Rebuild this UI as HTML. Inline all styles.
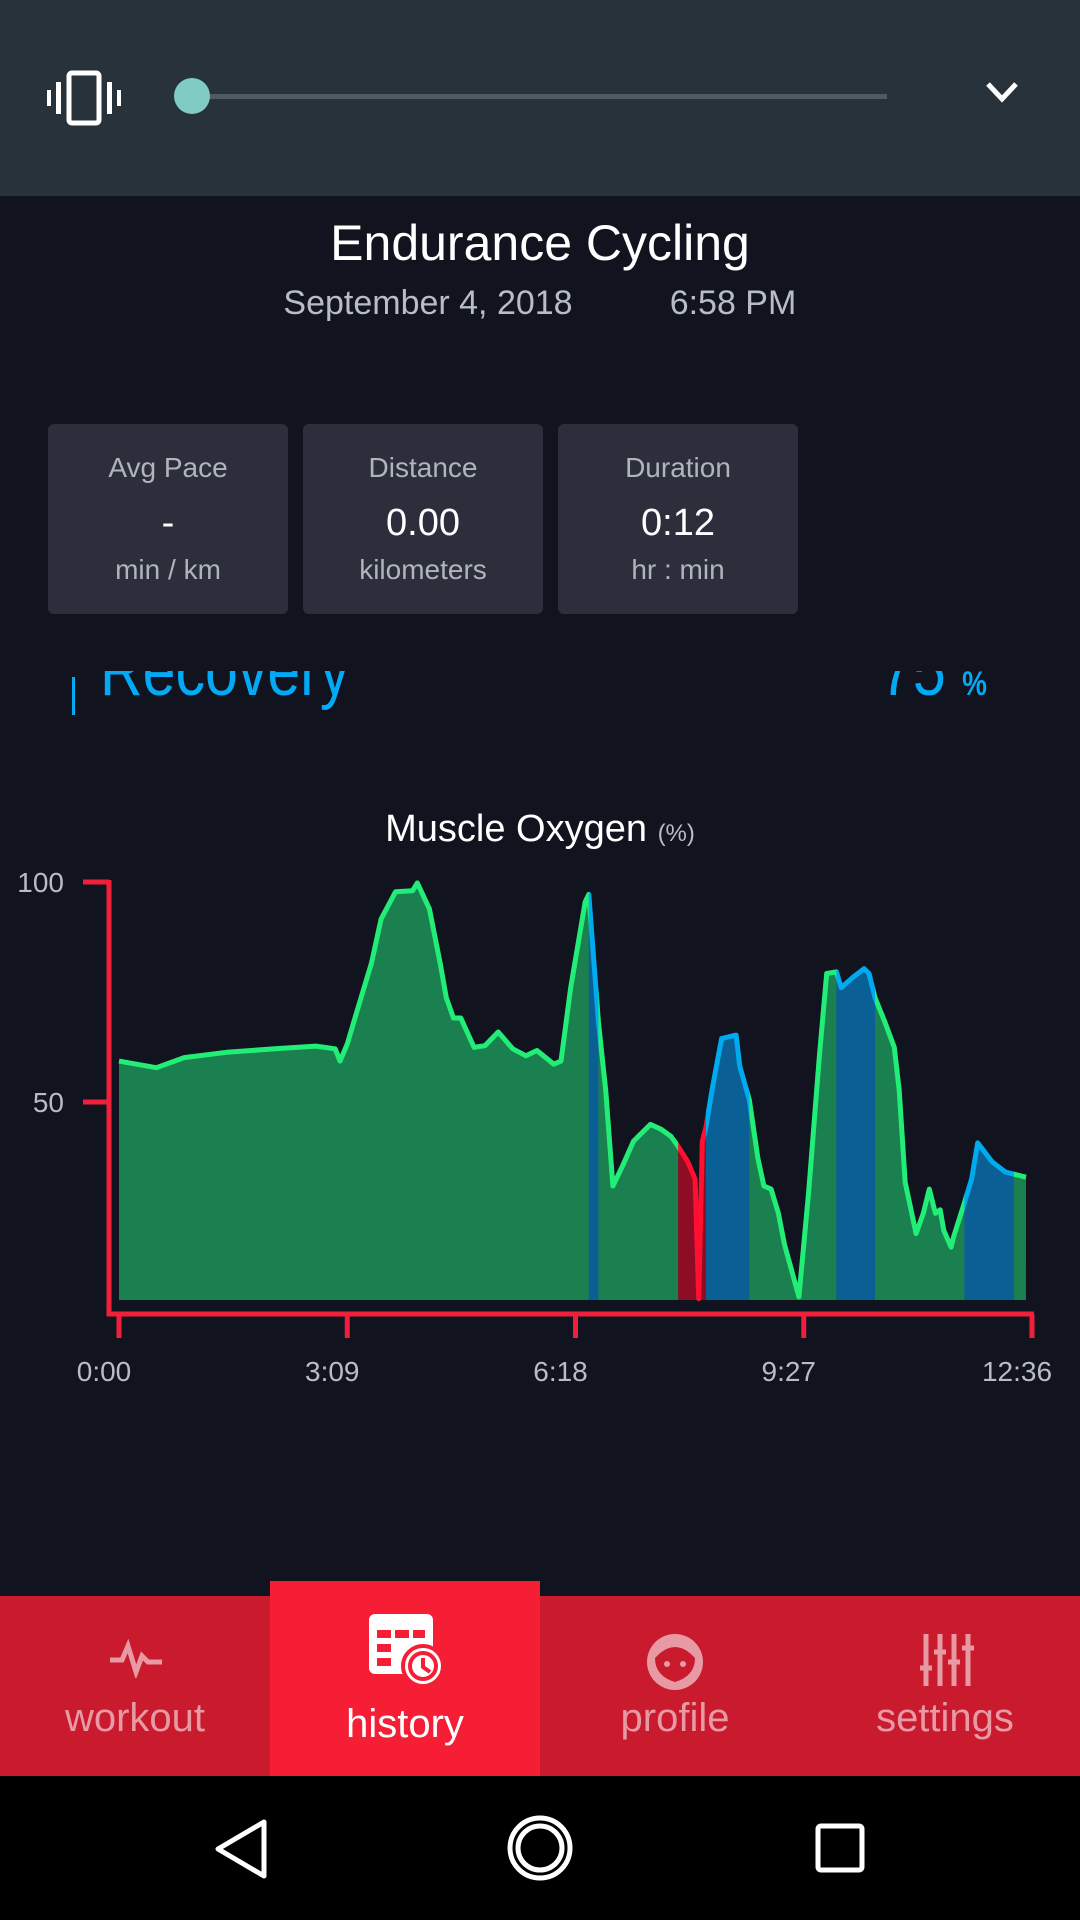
<!DOCTYPE html>
<html><head><meta charset="utf-8"><style>
body{margin:0;width:1080px;height:1920px;background:#11131f;font-family:"Liberation Sans",sans-serif;position:relative;overflow:hidden}
.abs{position:absolute}
.card{position:absolute;top:424px;width:240px;height:190px;background:#2c2f3b;border-radius:6px;text-align:center;color:#b0b4bc}
.card .l{position:absolute;top:28px;width:100%;font-size:28px}
.card .v{position:absolute;top:78px;width:100%;font-size:38px;color:#fff}
.card .u{position:absolute;top:130px;width:100%;font-size:28px}
.tab{position:absolute;top:1596px;height:180px;width:270px;text-align:center;color:#e89aa4;font-size:40px}
</style></head><body>
<div class="abs" style="left:0;top:0;width:1080px;height:196px;background:#28323a"></div>
<svg class="abs" style="top:68px;left:46px" width="76" height="60"><rect x="23" y="5" width="30" height="50" rx="3" fill="none" stroke="#fff" stroke-width="5"/><rect x="10" y="14" width="5" height="32" fill="#fff"/><rect x="61" y="14" width="5" height="32" fill="#fff"/><rect x="1" y="22" width="4" height="16" fill="#fff"/><rect x="71" y="22" width="4" height="16" fill="#fff"/></svg>
<div class="abs" style="left:190px;top:94px;width:697px;height:5px;background:#4f5b62"></div>
<div class="abs" style="left:174px;top:78px;width:36px;height:36px;border-radius:50%;background:#80cbc4"></div>
<svg class="abs" style="left:985px;top:80px" width="34" height="24"><polyline points="3,4 17,19 31,4" fill="none" stroke="#fff" stroke-width="5"/></svg>
<div class="abs" style="left:0;top:214px;width:1080px;text-align:center;color:#fff;font-size:50px">Endurance Cycling</div>
<div class="abs" style="left:228px;top:284px;width:400px;text-align:center;color:#b8bcc6;font-size:34px">September 4, 2018</div>
<div class="abs" style="left:633px;top:284px;width:200px;text-align:center;color:#b8bcc6;font-size:34px">6:58 PM</div>
<div class="card" style="left:48px"><div class="l">Avg Pace</div><div class="v">-</div><div class="u">min / km</div></div>
<div class="card" style="left:303px"><div class="l">Distance</div><div class="v">0.00</div><div class="u">kilometers</div></div>
<div class="card" style="left:558px"><div class="l">Duration</div><div class="v">0:12</div><div class="u">hr : min</div></div>
<div class="abs" style="left:0;top:671px;width:1080px;height:50px;overflow:hidden">
<div class="abs" style="left:72px;top:6px;width:3px;height:38px;background:#03a9f4"></div>
<div class="abs" style="left:100px;top:-36px;font-size:72px;color:#03a9f4;line-height:72px;transform:scaleX(0.82);transform-origin:left">Recovery</div>
<div class="abs" style="left:880px;top:-36px;font-size:72px;color:#03a9f4;line-height:72px;transform:scaleX(0.82);transform-origin:left">75 <span style="font-size:34px;font-weight:bold">%</span></div>
</div>
<div class="abs" style="left:0;top:808px;width:1080px;text-align:center;color:#fff;font-size:38px">Muscle Oxygen <span style="font-size:24px;color:#b8bcc6">(%)</span></div>
<svg id="chart" class="abs" style="left:0;top:0" width="1080" height="1420"></svg>
<div class="abs" style="left:0;top:1596px;width:1080px;height:180px;background:#c91a2e"></div>
<div class="abs" style="left:270px;top:1581px;width:270px;height:195px;background:#f51e34"></div>
<div class="tab" style="left:0"><svg style="position:absolute;left:108px;top:42px" width="56" height="40"><polyline points="2,22 14,22 20,8 28,34 34,18 40,24 54,24" fill="none" stroke="#e89aa4" stroke-width="5"/></svg><div style="position:absolute;top:100px;width:100%">workout</div></div>
<div class="tab" style="left:270px;color:#fff"><svg style="position:absolute;left:95px;top:14px" width="84" height="80"><rect x="4" y="4" width="64" height="60" rx="6" fill="#fff"/><g fill="#f51e34"><rect x="12" y="20" width="14" height="8"/><rect x="30" y="20" width="14" height="8"/><rect x="48" y="20" width="12" height="8"/><rect x="12" y="34" width="14" height="8"/><rect x="12" y="48" width="14" height="8"/></g><circle cx="58" cy="56" r="20" fill="#fff" stroke="#f51e34" stroke-width="4"/><circle cx="58" cy="56" r="13" fill="none" stroke="#f51e34" stroke-width="4"/><polyline points="58,48 58,57 65,62" fill="none" stroke="#f51e34" stroke-width="4"/></svg><div style="position:absolute;top:106px;width:100%">history</div></div>
<div class="tab" style="left:540px"><svg style="position:absolute;left:105px;top:36px" width="60" height="60"><circle cx="30" cy="30" r="28" fill="#e89aa4"/><path d="M10,26 Q30,4 50,26 Q50,44 30,50 Q10,44 10,26Z" fill="#c91a2e"/><circle cx="22" cy="32" r="3" fill="#e89aa4"/><circle cx="38" cy="32" r="3" fill="#e89aa4"/></svg><div style="position:absolute;top:100px;width:100%">profile</div></div>
<div class="tab" style="left:810px"><svg style="position:absolute;left:108px;top:36px" width="56" height="56"><g stroke="#e89aa4" stroke-width="5"><line x1="8" y1="2" x2="8" y2="54"/><line x1="22" y1="2" x2="22" y2="54"/><line x1="36" y1="2" x2="36" y2="54"/><line x1="50" y1="2" x2="50" y2="54"/><line x1="2" y1="36" x2="14" y2="36"/><line x1="16" y1="20" x2="28" y2="20"/><line x1="30" y1="30" x2="42" y2="30"/><line x1="44" y1="16" x2="56" y2="16"/></g></svg><div style="position:absolute;top:100px;width:100%">settings</div></div>
<div class="abs" style="left:0;top:1776px;width:1080px;height:144px;background:#000"></div>
<svg class="abs" style="left:0;top:1776px" width="1080" height="144"><polygon points="264,46 264,100 218,73" fill="none" stroke="#fff" stroke-width="5" stroke-linejoin="round"/><circle cx="540" cy="72" r="30" fill="none" stroke="#fff" stroke-width="5"/><circle cx="540" cy="72" r="22" fill="none" stroke="#fff" stroke-width="5"/><rect x="818" y="50" width="44" height="44" rx="3" fill="none" stroke="#fff" stroke-width="5"/></svg>
<script>
const times=[0,31,54,89,129,163,179,183,189,197,209,217,229,243,247,257,266,271,277,283,294,303,314,326,337,346,360,366,374,386,389,397,403,409,417,426,440,449,457,463,471,477,480,483,486,491,499,511,514,522,529,534,540,546,551,563,571,580,586,594,598,608,617,621,626,634,642,646,651,660,666,671,676,680,683,689,691,700,706,711,723,734,751];
const values=[59.3,57.8,60.1,61.3,62.1,62.7,62.1,59.3,63.2,70.6,81.5,91.6,97.8,98,99.8,93.9,81.5,73.7,69.1,69.1,62.4,62.8,65.9,62.1,60.5,61.7,58.6,59.3,76,95.5,97.2,68.3,52.7,30.9,35.5,41.1,44.9,43.8,42.2,39.9,36.4,32.5,5.3,41.1,44.2,52.7,64.4,65.2,58.2,50.4,37.2,30.9,30.2,24.7,17.7,5.7,29.4,60.5,79.2,79.6,76,78.4,80.3,79.2,73.7,68.3,62.4,52.7,31.7,20.1,24.7,30.2,24.7,25.5,20.8,17,19.3,27.1,32.5,40.7,36.4,34.1,32.9];
const zoneStarts=[0,389,397,463,482,486,522,594,626,700,741];
const zoneEnds=[389,397,463,482,486,522,594,626,700,741,756];
const zoneTypes=["g","b","g","r","r","b","g","b","g","b","g"];
const yTicks=[100,50];
const xTickVals=[0,189,378,567,756];
const xTickLabels=["0:00","3:09","6:18","9:27","12:36"];
const NS="http://www.w3.org/2000/svg";
const svg=document.getElementById('chart');
const x=t=>119+t/756*913;
const y=v=>1322-v*4.4;
const base=5;
const fills={g:"#1b8050",b:"#0a5f94",r:"#8c0d25"};
const lines={g:"#22ee77",b:"#00aaee",r:"#ff1030"};
function mk(tag,attrs){const e=document.createElementNS(NS,tag);for(const k in attrs)e.setAttribute(k,attrs[k]);return e;}
const defs=mk('defs',{});svg.appendChild(defs);
let linePts=times.map((t,i)=>x(t).toFixed(1)+','+y(values[i]).toFixed(1)).join(' ');
let areaD='M'+x(times[0])+','+y(base)+' L'+linePts.split(' ').join(' L')+' L'+x(times[times.length-1])+','+y(base)+'Z';
zoneStarts.forEach((s,i)=>{
 const cp=mk('clipPath',{id:'z'+i});
 cp.appendChild(mk('rect',{x:x(s),y:0,width:x(zoneEnds[i])-x(s)+0.5,height:1420}));
 defs.appendChild(cp);
 const a=mk('path',{d:areaD,fill:fills[zoneTypes[i]],'clip-path':'url(#z'+i+')'});
 
 
 svg.appendChild(a);
});
zoneStarts.forEach((s,i)=>{
 const cp=mk('clipPath',{id:'l'+i});
 cp.appendChild(mk('rect',{x:x(s)-(i?0:10),y:0,width:x(zoneEnds[i])-x(s)+(i==zoneStarts.length-1?10:0.5)+(i?0:10),height:1420}));
 defs.appendChild(cp);
 const l=mk('polyline',{points:linePts,fill:'none',stroke:lines[zoneTypes[i]],'stroke-width':5,'stroke-linejoin':'round','clip-path':'url(#l'+i+')'});
 
 
 svg.appendChild(l);
});
const red="#f0203a";
const ya=mk('line',{x1:109,y1:880,x2:109,y2:1316,stroke:red,'stroke-width':5});


svg.appendChild(ya);
const xa=mk('line',{x1:107,y1:1314,x2:1034,y2:1314,stroke:red,'stroke-width':5});


svg.appendChild(xa);
yTicks.forEach(v=>{
 svg.appendChild(mk('line',{x1:83,y1:y(v),x2:109,y2:y(v),stroke:red,'stroke-width':5}));
 const t=mk('text',{x:64,y:y(v)+10,'text-anchor':'end',fill:'#b8bcc6','font-size':28,'font-family':'Liberation Sans'});
 t.textContent=v;
 
 
 svg.appendChild(t);
});
xTickVals.forEach((v,i)=>{
 svg.appendChild(mk('line',{x1:x(v),y1:1314,x2:x(v),y2:1338,stroke:red,'stroke-width':5}));
 const t=mk('text',{x:x(v)-15,y:1381,'text-anchor':'middle',fill:'#b8bcc6','font-size':28,'font-family':'Liberation Sans'});
 t.textContent=xTickLabels[i];
 
 
 svg.appendChild(t);
});
</script>
</body></html>
